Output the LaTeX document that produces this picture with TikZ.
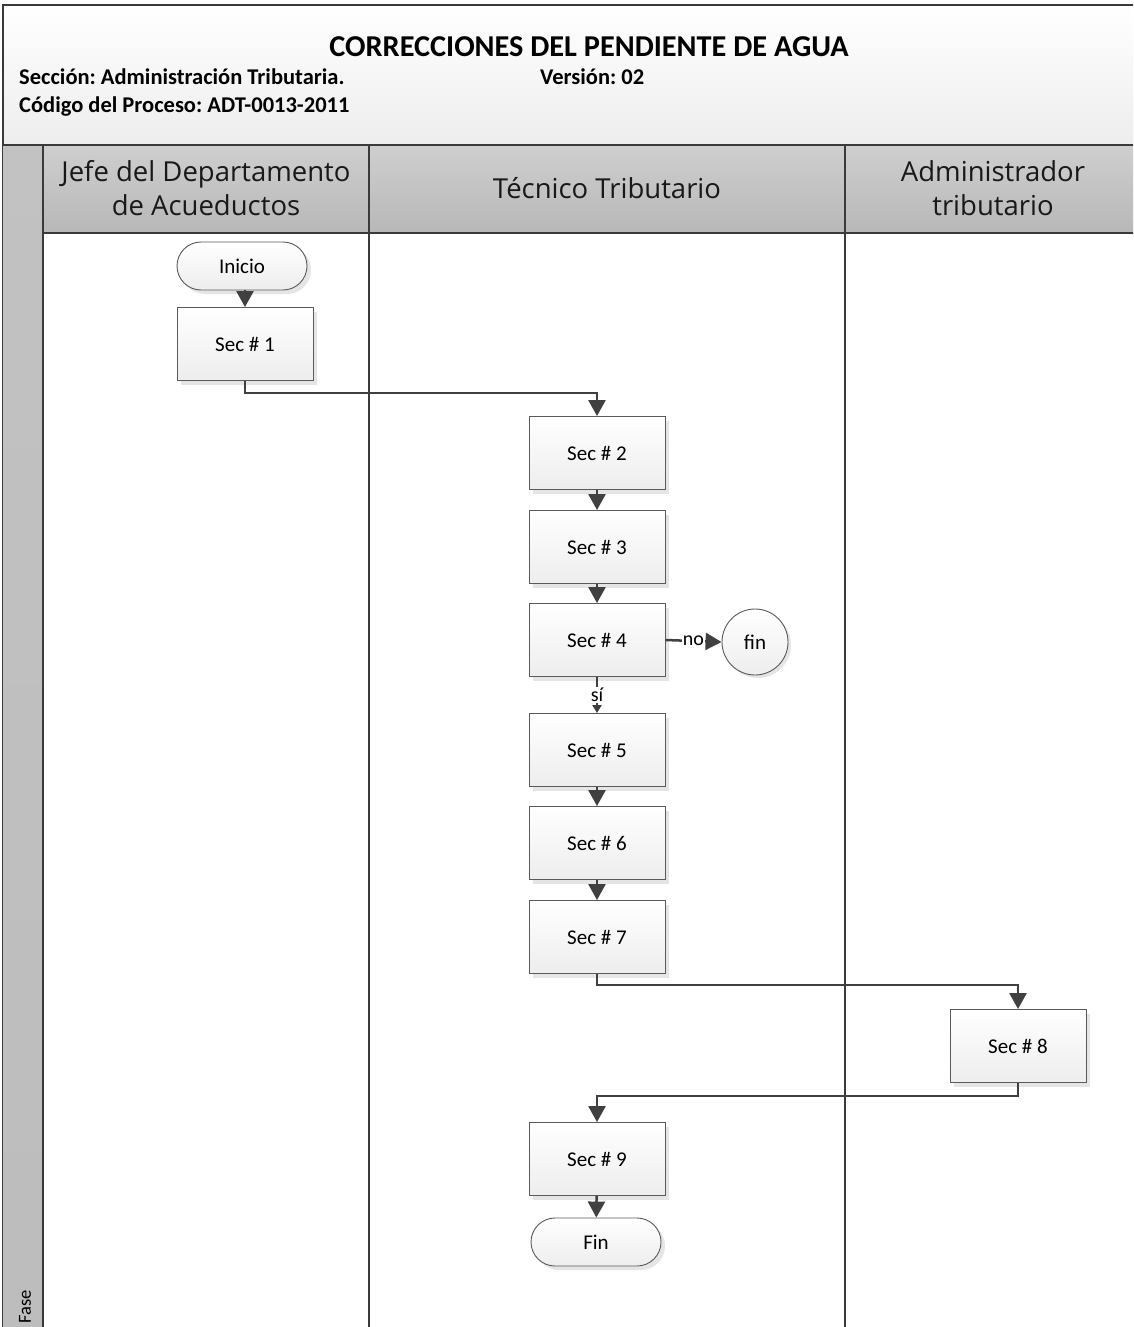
\documentclass[tikz,border=0pt]{standalone}
\usepackage{fontspec}
\setmainfont{Carlito}
\newfontfamily\lanefont{Open Sans}
\usetikzlibrary{arrows.meta,shapes.misc,shapes.geometric,shadows}
\definecolor{arrc}{HTML}{404040}
\definecolor{boxb}{HTML}{5A5A5A}
\definecolor{framec}{HTML}{3A3A3A}
\frenchspacing
\tikzset{
  stepbox/.style={draw=boxb, line width=0.9pt, top color=white, bottom color=black!7,
    minimum width=136pt, minimum height=73pt, inner sep=0pt,
    font=\fontsize{21}{24}\selectfont,
    drop shadow={shadow xshift=4pt, shadow yshift=-4pt, fill=black!10, opacity=1}},
  term/.style={draw=boxb, line width=0.9pt, rounded rectangle, top color=white, bottom color=black!7,
    minimum width=130pt, minimum height=48pt, inner sep=0pt,
    font=\fontsize{21}{24}\selectfont,
    drop shadow={shadow xshift=4pt, shadow yshift=-4pt, fill=black!10, opacity=1}},
  endc/.style={draw=boxb, line width=0.9pt, circle, top color=white, bottom color=black!7,
    minimum size=66pt, inner sep=0pt, font=\fontsize{21}{24}\selectfont,
    drop shadow={shadow xshift=3pt, shadow yshift=-3pt, fill=black!10, opacity=1}},
  arr/.style={draw=arrc, line width=2.5pt, -{Triangle[length=16pt,width=17pt]}},
  lbl/.style={fill=white, inner sep=1pt, font=\fontsize{20}{22}\selectfont},
  lanetxt/.style={font=\lanefont\fontsize{27.5}{34}\selectfont, align=center, text=black!90},
  frame/.style={draw=framec, line width=1.8pt},
}
\begin{document}
\begin{tikzpicture}[x=1pt,y=-1pt]
\useasboundingbox (0,0) rectangle (1133,1327);
\clip (0,0) rectangle (1133,1327);
% header block
\path[top color=white, bottom color=black!7] (3,5) rectangle (1140,145);
\draw[frame] (1140,5) -- (3,5) -- (3,1340);
\node[font=\bfseries\fontsize{30.3}{34}\selectfont] (title) at (589,47) {CORRECCIONES DEL PENDIENTE DE AGUA};
\node[anchor=base west, font=\bfseries\fontsize{22.5}{26}\selectfont, inner sep=0pt] (sec) at (19,85) {Sección: Administración Tributaria.};
\node[anchor=base west, font=\bfseries\fontsize{22.5}{26}\selectfont, inner sep=0pt] (ver) at (540,85) {Versión: 02};
\node[anchor=base west, font=\bfseries\fontsize{22.5}{26}\selectfont, inner sep=0pt] (cod) at (19,113) {Código del Proceso: ADT-0013-2011};
% lane headers
\path[top color=black!19, bottom color=black!28] (43,145) rectangle (1140,233);
\path[top color=black!24, bottom color=black!26] (3,145) rectangle (43,1340);
\draw[frame] (3,145) -- (1140,145);
\draw[frame] (43,233) -- (1140,233);
\draw[frame] (43,145) -- (43,1340);
\draw[frame] (369,145) -- (369,1340);
\draw[frame] (845,145) -- (845,1340);
\node[lanetxt] (l1) at (206,188) {Jefe del Departamento\\de Acueductos};
\node[lanetxt] (l2) at (607,188) {Técnico Tributario};
\node[lanetxt] (l3) at (993,188) {Administrador\\tributario};
\node[rotate=90, font=\fontsize{18.5}{20}\selectfont, anchor=center] (fase) at (25,1307) {Fase};
% shapes
\node[term] (ini) at (242,266) {Inicio};
\node[stepbox] (s1) at (245,344) {Sec \# 1};
\node[stepbox] (s2) at (597,453) {Sec \# 2};
\node[stepbox] (s3) at (597,547) {Sec \# 3};
\node[stepbox] (s4) at (597,640) {Sec \# 4};
\node[endc] (fin) at (755,642) {fin};
\node[stepbox] (s5) at (597,750) {Sec \# 5};
\node[stepbox] (s6) at (597,843) {Sec \# 6};
\node[stepbox] (s7) at (597,937) {Sec \# 7};
\node[stepbox] (s8) at (1018,1046) {Sec \# 8};
\node[stepbox] (s9) at (597,1159) {Sec \# 9};
\node[term] (fn) at (596,1242) {Fin};
% connectors
\draw[arr] (ini.south -| s1.north) -- (s1.north);
\draw[arr] (s1.south) -- ++(0,12) -| (s2.north);
\draw[arr] (s2) -- (s3);
\draw[arr] (s3) -- (s4);
\draw[arr] (s4.east) -- node[lbl] {no} (fin.west);
\draw[draw=arrc, line width=2.5pt, -{Triangle[length=8pt,width=9pt]}] (s4.south) -- node[lbl, pos=0.5] {sí} (s5.north);
\draw[arr] (s5) -- (s6);
\draw[arr] (s6) -- (s7);
\draw[arr] (s7.south) -- ++(0,11) -| (s8.north);
\draw[arr] (s8.south) -- ++(0,13) -| (s9.north);
\draw[arr] (s9) -- (fn);
\end{tikzpicture}
\end{document}
